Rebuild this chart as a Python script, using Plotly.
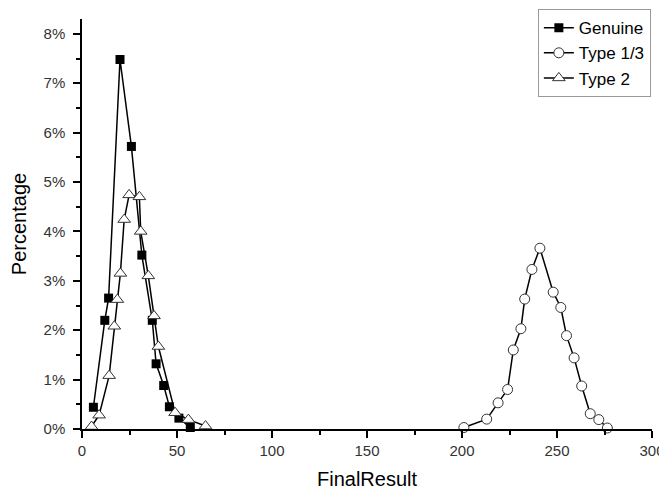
import plotly.graph_objects as go

# values (x = FinalResult, y = fraction)
genuine_x = [6, 12, 14, 20, 26, 31.5, 37, 39, 43, 46, 51, 57]
genuine_y = [0.0044, 0.022, 0.0265, 0.0748, 0.0572, 0.0352, 0.022, 0.0132, 0.0088, 0.0045, 0.0022, 0.0003]

type13_x = [201, 213, 219, 224, 227, 231, 233, 236.8, 241, 248, 252, 255, 259, 263, 267.5, 272, 276.5]
type13_y = [0.0003, 0.002, 0.0053, 0.008, 0.016, 0.0203, 0.0263, 0.0323, 0.0366, 0.0277, 0.0246,
            0.0189, 0.0144, 0.0087, 0.0031, 0.0019, 0.0002]

type2_x = [5, 9, 14.3, 17, 18.6, 20.2, 22.2, 24.8, 30.2, 30.9, 34.9, 37.9, 40.2, 49, 56, 65]
type2_y = [0.0005, 0.0028, 0.0108, 0.0208, 0.0262, 0.0315, 0.0424, 0.0474, 0.047, 0.04, 0.031,
           0.0229, 0.0167, 0.0033, 0.0019, 0.0006]

font = "Liberation Sans, Arial, sans-serif"

fig = go.Figure()
fig.add_trace(go.Scatter(x=genuine_x, y=genuine_y, name="Genuine", mode="lines+markers",
                         line=dict(color="black", width=1.5),
                         marker=dict(symbol="square", size=9, color="black"),
                         cliponaxis=False))
fig.add_trace(go.Scatter(x=type13_x, y=type13_y, name="Type 1/3", mode="lines+markers",
                         line=dict(color="black", width=1.5),
                         marker=dict(symbol="circle", size=10, color="white",
                                     line=dict(color="#333", width=1)),
                         cliponaxis=False))
fig.add_trace(go.Scatter(x=type2_x, y=type2_y, name="Type 2", mode="lines+markers",
                         line=dict(color="black", width=1.5),
                         marker=dict(symbol="triangle-up", size=11, color="white",
                                     line=dict(color="#333", width=1)),
                         cliponaxis=False))

# the page body adds 8px on the left/top, so the figure is 8px smaller
fig.update_layout(
    width=659, height=491,
    margin=dict(l=74, r=15, t=11, b=70, autoexpand=False),
    plot_bgcolor="white", paper_bgcolor="white",
    font=dict(family=font, size=15, color="#333"),
    legend=dict(x=0.998, xanchor="right", y=1.024, yanchor="top",
                bordercolor="#999", borderwidth=1, bgcolor="white",
                font=dict(size=17, color="black"), tracegroupgap=0, itemwidth=30),
)
fig.update_xaxes(range=[0, 300], dtick=50, showgrid=False, zeroline=False,
                 showline=True, linecolor="black", linewidth=1.5,
                 ticks="outside", ticklen=7, tickwidth=1.5, tickcolor="black",
                 minor=dict(dtick=25, ticks="outside", ticklen=4, tickwidth=1.5, tickcolor="black"),
                 automargin=False,
                 title=dict(text="FinalResult", font=dict(size=20, color="black"), standoff=14))
fig.update_yaxes(range=[0, 0.083], dtick=0.01, tickformat=".0%", showgrid=False, zeroline=False,
                 showline=True, linecolor="black", linewidth=1.5,
                 ticks="outside", ticklen=7, tickwidth=1.5, tickcolor="black",
                 minor=dict(dtick=0.005, ticks="outside", ticklen=4, tickwidth=1.5, tickcolor="black"),
                 ticklabelstandoff=5, automargin=False,
                 title=dict(text="Percentage", font=dict(size=20, color="black"), standoff=12))

fig.write_html("out.html")
